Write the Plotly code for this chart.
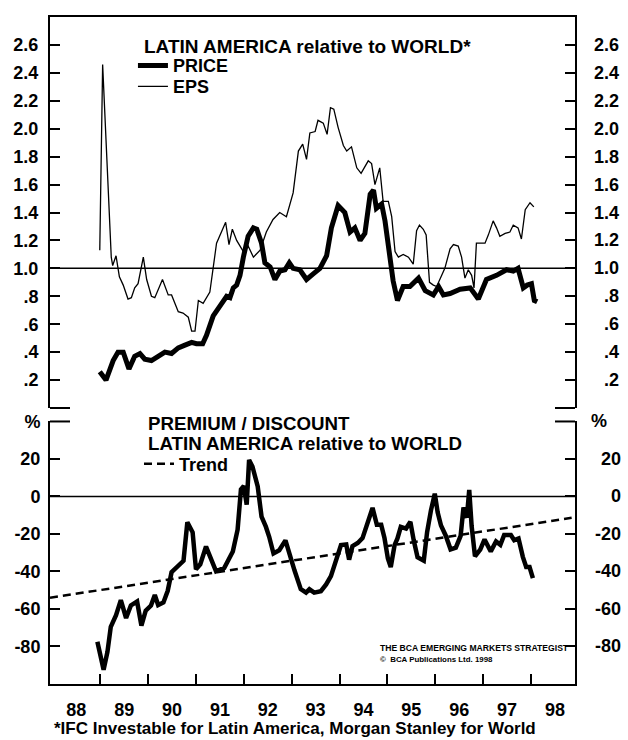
import plotly.graph_objects as go

# ---------------- data ----------------
price_t = [1988.99, 1989.12, 1989.27, 1989.37, 1989.48, 1989.60, 1989.72, 1989.83, 1989.93, 1990.07,
           1990.21, 1990.35, 1990.49, 1990.63, 1990.77, 1990.91, 1991.01, 1991.14, 1991.22, 1991.36,
           1991.50, 1991.64, 1991.71, 1991.78, 1991.85, 1991.92, 1991.99, 1992.09, 1992.20, 1992.27,
           1992.37, 1992.44, 1992.55, 1992.65, 1992.75, 1992.86, 1992.95, 1993.03, 1993.17, 1993.31,
           1993.45, 1993.59, 1993.73, 1993.83, 1993.97, 1994.11, 1994.22, 1994.32, 1994.43, 1994.53,
           1994.64, 1994.71, 1994.77, 1994.88, 1994.95, 1995.06, 1995.12, 1995.21, 1995.33, 1995.47,
           1995.65, 1995.79, 1995.96, 1996.07, 1996.17, 1996.31, 1996.52, 1996.73, 1996.90, 1997.07,
           1997.28, 1997.49, 1997.63, 1997.73, 1997.84, 1997.92, 1998.01, 1998.07, 1998.13]
price_v = [0.26, 0.20, 0.34, 0.40, 0.40, 0.28, 0.37, 0.39, 0.35, 0.34,
           0.37, 0.40, 0.39, 0.43, 0.45, 0.47, 0.46, 0.46, 0.52, 0.66,
           0.73, 0.80, 0.79, 0.86, 0.88, 0.95, 1.08, 1.23, 1.29, 1.28,
           1.18, 1.04, 1.01, 0.92, 0.98, 0.99, 1.04, 1.00, 0.99, 0.92,
           0.96, 1.00, 1.09, 1.29, 1.45, 1.40, 1.26, 1.29, 1.20, 1.25,
           1.53, 1.56, 1.43, 1.46, 1.34, 1.07, 0.91, 0.77, 0.87, 0.87,
           0.93, 0.84, 0.81, 0.87, 0.81, 0.82, 0.85, 0.86, 0.78, 0.92,
           0.95, 0.99, 0.98, 1.00, 0.86, 0.88, 0.89, 0.77, 0.76]

eps_t = [1988.99, 1989.05, 1989.23, 1989.26, 1989.33, 1989.40, 1989.48, 1989.58, 1989.65, 1989.72,
         1989.79, 1989.90, 1989.97, 1990.07, 1990.14, 1990.30, 1990.42, 1990.49, 1990.63, 1990.73,
         1990.84, 1990.91, 1990.98, 1991.05, 1991.15, 1991.29, 1991.43, 1991.53, 1991.62, 1991.69,
         1991.76, 1991.85, 1991.99, 1992.09, 1992.20, 1992.34, 1992.47, 1992.61, 1992.75, 1992.89,
         1993.03, 1993.14, 1993.23, 1993.31, 1993.38, 1993.49, 1993.55, 1993.66, 1993.74, 1993.81,
         1993.88, 1993.97, 1994.08, 1994.15, 1994.25, 1994.36, 1994.45, 1994.60, 1994.67, 1994.74,
         1994.84, 1994.91, 1995.02, 1995.09, 1995.16, 1995.23, 1995.33, 1995.44, 1995.54, 1995.61,
         1995.67, 1995.75, 1995.81, 1995.88, 1995.96, 1996.03, 1996.13, 1996.20, 1996.31, 1996.38,
         1996.48, 1996.55, 1996.62, 1996.69, 1996.76, 1996.81, 1996.86, 1997.04, 1997.11, 1997.21,
         1997.28, 1997.35, 1997.46, 1997.56, 1997.63, 1997.73, 1997.80, 1997.88, 1997.98, 1998.06]
eps_v = [1.13, 2.46, 1.08, 1.02, 1.09, 0.94, 0.88, 0.78, 0.79, 0.86,
         0.89, 1.08, 0.92, 0.80, 0.79, 0.92, 0.81, 0.81, 0.69, 0.68,
         0.65, 0.55, 0.55, 0.77, 0.75, 0.83, 1.18, 1.26, 1.33, 1.17,
         1.28, 1.20, 1.12, 1.16, 1.08, 1.13, 1.26, 1.35, 1.40, 1.37,
         1.54, 1.84, 1.89, 1.78, 1.97, 1.98, 2.06, 2.04, 1.96, 2.15,
         2.14, 2.01, 1.88, 1.84, 1.87, 1.72, 1.68, 1.77, 1.75, 1.60,
         1.72, 1.48, 1.48, 1.37, 1.12, 1.08, 1.10, 1.08, 1.03, 1.27,
         1.31, 1.28, 1.24, 0.90, 0.88, 0.87, 0.95, 1.00, 1.14, 1.17,
         1.16, 1.08, 0.93, 0.99, 0.95, 0.86, 1.18, 1.18, 1.24, 1.34,
         1.29, 1.23, 1.25, 1.26, 1.31, 1.29, 1.21, 1.42, 1.47, 1.44]

prem_t = [1988.94, 1989.07, 1989.15, 1989.22, 1989.33, 1989.43, 1989.54, 1989.64, 1989.77, 1989.86,
          1989.95, 1990.06, 1990.14, 1990.21, 1990.32, 1990.41, 1990.49, 1990.60, 1990.74, 1990.82,
          1990.93, 1991.00, 1991.09, 1991.21, 1991.31, 1991.42, 1991.59, 1991.70, 1991.77, 1991.87,
          1991.94, 1992.00, 1992.06, 1992.11, 1992.18, 1992.29, 1992.37, 1992.46, 1992.53, 1992.62,
          1992.74, 1992.87, 1992.95, 1993.06, 1993.19, 1993.30, 1993.37, 1993.47, 1993.61, 1993.72,
          1993.82, 1993.93, 1994.03, 1994.14, 1994.20, 1994.27, 1994.38, 1994.48, 1994.59, 1994.69,
          1994.78, 1994.87, 1994.94, 1995.01, 1995.07, 1995.15, 1995.21, 1995.28, 1995.39, 1995.48,
          1995.55, 1995.63, 1995.76, 1995.83, 1995.91, 1995.99, 1996.05, 1996.12, 1996.22, 1996.32,
          1996.43, 1996.53, 1996.59, 1996.66, 1996.71, 1996.76, 1996.83, 1996.94, 1997.03, 1997.16,
          1997.27, 1997.36, 1997.44, 1997.58, 1997.65, 1997.74, 1997.83, 1997.90, 1997.97, 1998.04]
prem_v = [-77.5, -92.4, -82.9, -69.5, -63.3, -55.3, -64.8, -58.1, -56.0, -68.9,
          -60.9, -58.2, -52.5, -57.9, -56.5, -50.3, -40.4, -37.8, -34.3, -13.7,
          -19.1, -38.8, -36.2, -26.7, -33.6, -39.9, -38.1, -31.9, -29.3, -17.7,
          3.8, 5.6, -4.3, 19.5, 16.0, 5.4, -10.7, -16.1, -21.5, -30.4,
          -28.7, -23.4, -30.5, -39.5, -49.4, -51.3, -49.5, -51.3, -50.5, -46.9,
          -42.5, -34.5, -25.9, -25.6, -33.7, -26.5, -24.8, -22.2, -14.1, -6.1,
          -15.1, -15.1, -22.3, -33.1, -37.6, -25.9, -22.4, -16.2, -17.1, -13.5,
          -23.4, -32.4, -34.2, -19.0, -7.4, 1.5, -8.4, -15.5, -20.9, -28.2,
          -27.3, -21.0, -5.9, -11.3, 3.5, -15.8, -31.9, -28.3, -22.9, -29.3,
          -24.0, -25.8, -20.5, -20.5, -23.3, -22.4, -32.2, -37.6, -37.6, -43.5]

trend_t = [1987.95, 1998.85]
trend_v = [-54.0, -11.4]

price_ref_level = 1.0
prem_ref_level = 0.0

year_ticks = [1989, 1990, 1991, 1992, 1993, 1994, 1995, 1996, 1997, 1998]
year_label_pos = [1988.5, 1989.5, 1990.5, 1991.5, 1992.5, 1993.5, 1994.5, 1995.5, 1996.5, 1997.5, 1998.5]
year_labels = ["88", "89", "90", "91", "92", "93", "94", "95", "96", "97", "98"]

top_tickvals = [0.2, 0.4, 0.6, 0.8, 1.0, 1.2, 1.4, 1.6, 1.8, 2.0, 2.2, 2.4, 2.6]
top_ticktext = [".2", ".4", ".6", ".8", "1.0", "1.2", "1.4", "1.6", "1.8", "2.0", "2.2", "2.4", "2.6"]
bot_tickvals = [20, 0, -20, -40, -60, -80]
bot_ticktext = ["20", "0", "-20", "-40", "-60", "-80"]
bot_unit_val = 40
bot_unit_text = "%"

top_title = "LATIN AMERICA relative to WORLD*"
bot_title_1 = "PREMIUM / DISCOUNT"
bot_title_2 = "LATIN AMERICA relative to WORLD"
footnote = "*IFC Investable for Latin America, Morgan Stanley for World"
source_1 = "THE BCA EMERGING MARKETS STRATEGIST"
source_2 = "\u00a9  BCA Publications Ltd. 1998"

# ---------------- styling ----------------
FONT = "Liberation Sans, Arial, Helvetica, sans-serif"
BLK = "black"
X_RANGE = [1987.95, 1998.92]
TOP_RANGE = [0, 2.8]
BOT_RANGE = [-100, 40]
TICK_FONT = dict(family=FONT, size=18, color=BLK, weight="bold")
LEG_FONT = dict(family=FONT, size=18, color=BLK, weight="bold")

fig = go.Figure()

fig.add_trace(go.Scatter(x=price_t, y=price_v, mode="lines", name="PRICE",
                         line=dict(color=BLK, width=5), xaxis="x", yaxis="y",
                         legend="legend"))
fig.add_trace(go.Scatter(x=eps_t, y=eps_v, mode="lines", name="EPS",
                         line=dict(color=BLK, width=1.3), xaxis="x", yaxis="y",
                         legend="legend3"))
fig.add_trace(go.Scatter(x=trend_t, y=trend_v, mode="lines", name="Trend",
                         line=dict(color=BLK, width=2.5, dash="8px,5px"),
                         xaxis="x2", yaxis="y2", legend="legend2"))
fig.add_trace(go.Scatter(x=prem_t, y=prem_v, mode="lines", name="Premium / discount",
                         line=dict(color=BLK, width=4.5), xaxis="x2", yaxis="y2",
                         showlegend=False))

axis_common = dict(showgrid=False, zeroline=False, linecolor=BLK, linewidth=2,
                   tickcolor=BLK, tickwidth=2, automargin=False)

leg_common = dict(xanchor="left", yanchor="middle", bgcolor="rgba(0,0,0,0)",
                  borderwidth=0, itemwidth=30, font=LEG_FONT)

fig.update_layout(
    width=628, height=740,
    margin=dict(l=50, r=53, t=17, b=56),
    paper_bgcolor="white", plot_bgcolor="white",
    font=dict(family=FONT, color=BLK),
    hovermode=False,
    xaxis=dict(domain=[0, 1], anchor="y", range=X_RANGE, side="top",
               showline=True, ticks="", showticklabels=False, **axis_common),
    yaxis=dict(domain=[0.4138, 1], anchor="x", range=TOP_RANGE,
               tickmode="array", tickvals=top_tickvals, ticktext=top_ticktext,
               ticks="inside", ticklen=10, showline=True, mirror="ticks",
               tickfont=TICK_FONT, ticklabelstandoff=6, **axis_common),
    xaxis2=dict(domain=[0, 1], anchor="y2", range=X_RANGE, side="bottom",
                showline=True, tickmode="array", tickvals=year_label_pos,
                ticktext=year_labels, ticks="", tickfont=TICK_FONT,
                ticklabelstandoff=8,
                minor=dict(tickmode="array", tickvals=year_ticks, ticks="inside",
                           ticklen=10, tickwidth=2, tickcolor=BLK, showgrid=False),
                **axis_common),
    yaxis2=dict(domain=[0, 0.3936], anchor="x2", range=BOT_RANGE,
                tickmode="array", tickvals=[bot_unit_val] + bot_tickvals,
                ticktext=[bot_unit_text] + bot_ticktext,
                ticks="inside", ticklen=10, showline=True, mirror="ticks",
                tickfont=TICK_FONT, ticklabelstandoff=4, **axis_common),
    legend=dict(x=0.158, y=0.927, **leg_common),
    legend3=dict(x=0.158, y=0.8955, **leg_common),
    legend2=dict(x=0.1695, y=0.3298, **leg_common),
    showlegend=True,
)

# reference lines
fig.add_shape(type="line", xref="x domain", x0=0, x1=1, yref="y",
              y0=price_ref_level, y1=price_ref_level, line=dict(color=BLK, width=1.5))
fig.add_shape(type="line", xref="x2 domain", x0=0, x1=1, yref="y2",
              y0=prem_ref_level, y1=prem_ref_level, line=dict(color=BLK, width=1.5))

# partial frame corners between the panels
corner = 20 / 525
for yr, yy in (("y domain", 0), ("y2 domain", 1)):
    fig.add_shape(type="line", xref="paper", x0=0, x1=corner, yref=yr, y0=yy, y1=yy,
                  line=dict(color=BLK, width=2))
    fig.add_shape(type="line", xref="paper", x0=1 - corner, x1=1, yref=yr, y0=yy, y1=yy,
                  line=dict(color=BLK, width=2))

# right-hand tick labels (right aligned, as in the print)
for v, t in zip(top_tickvals, top_ticktext):
    fig.add_annotation(x=1, xref="paper", y=v, yref="y", text=t, showarrow=False,
                       xanchor="right", xshift=46, font=TICK_FONT)
for v, t in zip(bot_tickvals, bot_ticktext):
    fig.add_annotation(x=1, xref="paper", y=v, yref="y2", text=t, showarrow=False,
                       xanchor="right", xshift=48, font=TICK_FONT)
fig.add_annotation(x=1, xref="paper", y=bot_unit_val, yref="y2", text=bot_unit_text,
                   showarrow=False, xanchor="left", xshift=14, font=TICK_FONT)

# panel titles
title_font = dict(family=FONT, size=19, color=BLK, weight="bold")
fig.add_annotation(x=0.1752, xref="paper", y=0.9555, yref="paper", text=top_title,
                   showarrow=False, xanchor="left", yanchor="middle", font=title_font)
fig.add_annotation(x=0.1829, xref="paper", y=0.3913, yref="paper", text=bot_title_1,
                   showarrow=False, xanchor="left", yanchor="middle",
                   font=dict(family=FONT, size=18.7, color=BLK, weight="bold"))
fig.add_annotation(x=0.1829, xref="paper", y=0.3613, yref="paper", text=bot_title_2,
                   showarrow=False, xanchor="left", yanchor="middle",
                   font=dict(family=FONT, size=18.7, color=BLK, weight="bold"))

# source notes
fig.add_annotation(x=0.625, xref="paper", y=0.054, yref="paper",
                   text=source_1, showarrow=False, xanchor="left", yanchor="middle",
                   font=dict(family=FONT, size=8.6, color=BLK, weight="bold"))
fig.add_annotation(x=0.625, xref="paper", y=0.037, yref="paper",
                   text=source_2, showarrow=False, xanchor="left", yanchor="middle",
                   font=dict(family=FONT, size=7.9, color=BLK, weight="bold"))
fig.add_annotation(x=0.004, xref="paper", y=-0.0665, yref="paper",
                   text=footnote, showarrow=False, xanchor="left", yanchor="middle",
                   font=dict(family=FONT, size=17, color=BLK, weight="bold"))

fig.write_html("out.html",
               config={"displayModeBar": False, "staticPlot": True},
               post_script="document.body.style.margin='0px';"
                           "document.body.style.overflow='hidden';")
